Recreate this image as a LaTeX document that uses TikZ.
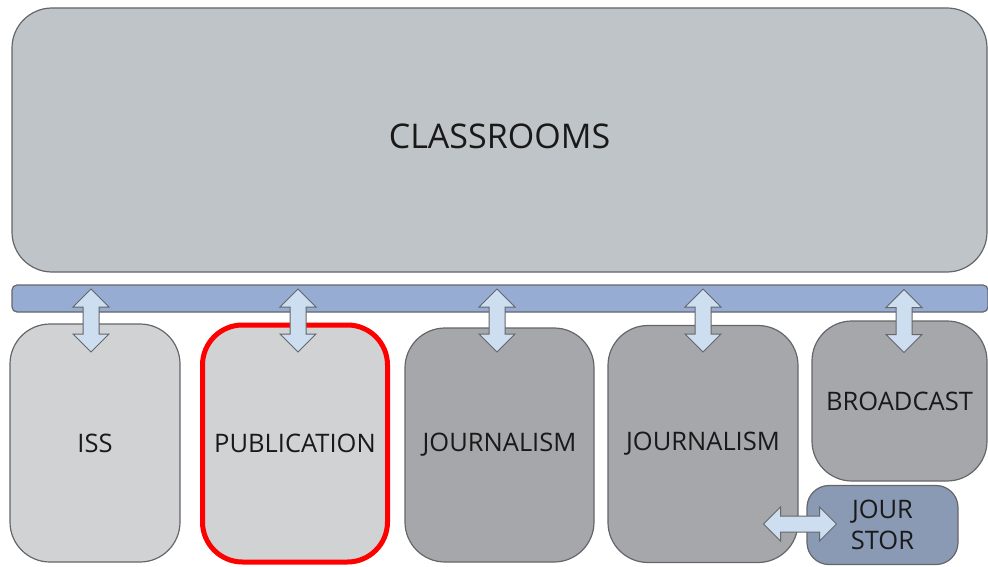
\documentclass[tikz,border=0pt]{standalone}
\usepackage{fontspec}
\setmainfont{Open Sans}
\usetikzlibrary{shapes.arrows}
\definecolor{roomgray}{RGB}{190,196,199}
\definecolor{busblue}{RGB}{151,172,210}
\definecolor{lightunit}{RGB}{209,210,212}
\definecolor{darkunit}{RGB}{166,167,170}
\definecolor{storblue}{RGB}{138,154,180}
\definecolor{arrowblue}{RGB}{204,222,240}
\definecolor{edgegray}{RGB}{100,102,105}
\definecolor{inkgray}{RGB}{25,25,25}
\tikzset{
  unitbox/.style={draw=edgegray, line width=1.2pt, rounded corners=40pt, inner sep=0pt, outer sep=0pt,
    text=inkgray, align=center, font=\fontsize{25.5}{31}\selectfont},
  lightbox/.style={unitbox, fill=lightunit},
  darkbox/.style={unitbox, fill=darkunit},
  picked/.style={draw=red, line width=5pt},
  linkarrow/.style={double arrow, draw=edgegray, fill=arrowblue, line width=1pt, inner sep=7.5pt,
    double arrow head extend=10pt, minimum height=63pt},
  uparrow/.style={linkarrow, shape border rotate=90}
}
\begin{document}
\begin{tikzpicture}[x=1pt, y=-1pt]
  \useasboundingbox (0,0) rectangle (988,567);
  % top level and the shared bus
  \node[unitbox, fill=roomgray, minimum width=975pt, minimum height=264pt,
        font=\fontsize{34}{40}\selectfont] (rooms) at (499.5,140) {\raisebox{7pt}{CLASSROOMS}};
  \node[unitbox, fill=busblue, rounded corners=5pt, minimum width=976pt, minimum height=27pt] (bus) at (500,298.5) {};
  % units below the bus
  \node[lightbox, minimum width=170pt, minimum height=238pt] (iss) at (95,443) {ISS};
  \node[lightbox, picked, minimum width=185pt, minimum height=237pt] (pub) at (295,443.5) {\raisebox{-3pt}{PUBLICATION}};
  \node[darkbox, minimum width=189pt, minimum height=234pt] (jour) at (499.5,445) {JOURNALISM};
  \node[darkbox, minimum width=190pt, minimum height=237pt] (jourb) at (703,444) {JOURNALISM};
  \node[darkbox, minimum width=175pt, minimum height=160pt] (cast) at (899.5,401) {BROADCAST};
  \node[unitbox, fill=storblue, rounded corners=22pt, minimum width=151pt, minimum height=79pt] (stor) at (882.5,525) {JOUR\\STOR};
  % links
  \node[uparrow] (lnk-iss) at (91,320.5) {};
  \node[uparrow] (lnk-pub) at (298,320.5) {};
  \node[uparrow] (lnk-jour) at (497,320.5) {};
  \node[uparrow] (lnk-jourb) at (703,320.5) {};
  \node[uparrow] (lnk-cast) at (904,321) {};
  \node[linkarrow, minimum height=73pt, double arrow head extend=9pt] (lnk-stor) at (800,524) {};
\end{tikzpicture}
\end{document}
